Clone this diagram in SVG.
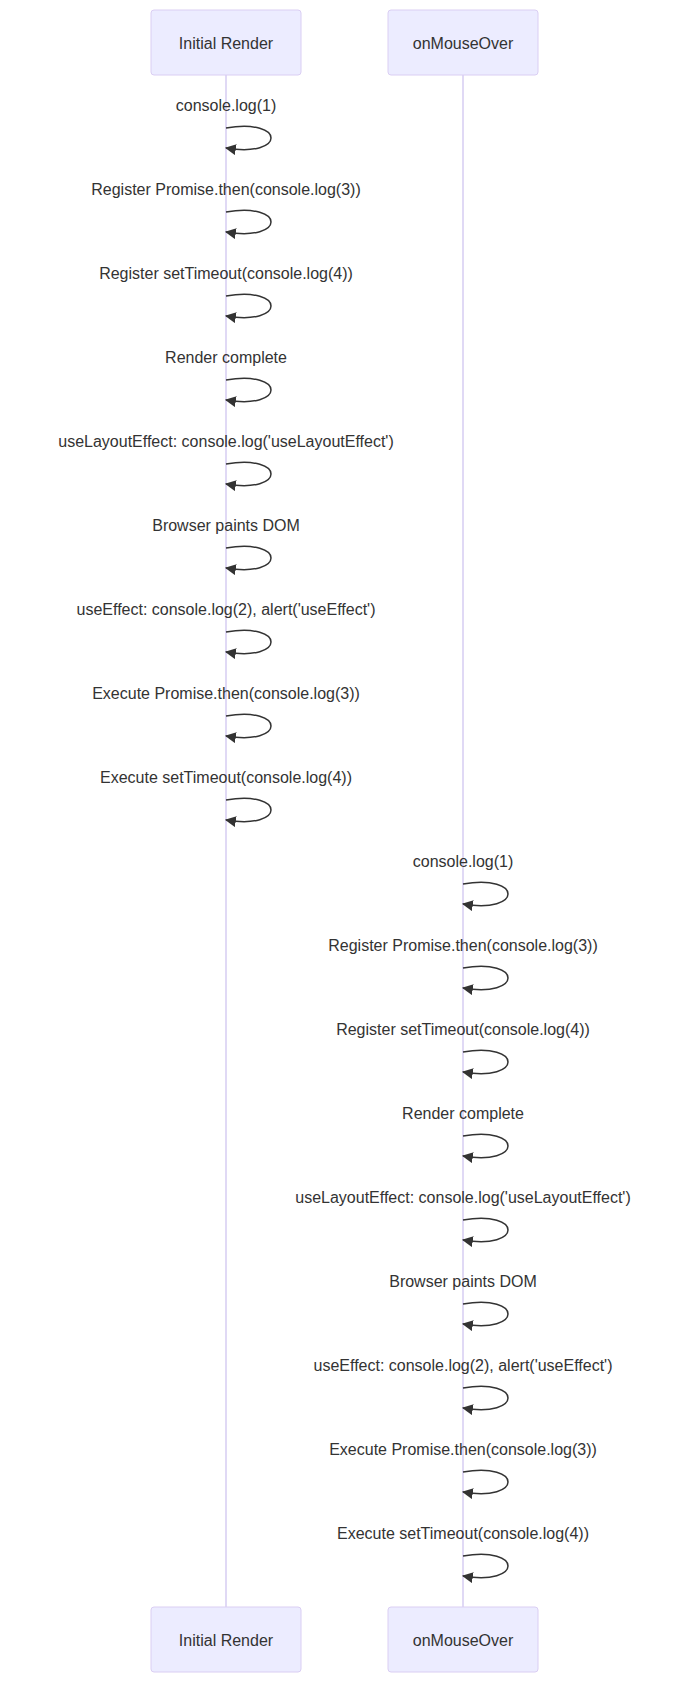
<svg xmlns="http://www.w3.org/2000/svg" width="691" height="1683" viewBox="0 0 691 1683">
<style>
.actor{fill:#ECECFF;stroke:#DACEF3;stroke-width:1}
.atext{font-family:"Liberation Sans",Arial,sans-serif;font-size:16px;fill:#333;text-anchor:middle}
.life{stroke:#D6CCF2;stroke-width:1.5;fill:none}
.msg{font-family:"Liberation Sans",Arial,sans-serif;font-size:16px;fill:#333;text-anchor:middle}
.loop{fill:none;stroke:#333;stroke-width:1.5;marker-end:url(#arrow)}
</style>
<defs>
<marker id="arrow" viewBox="0 0 10 10" refX="9" refY="5" markerWidth="11" markerHeight="11" markerUnits="userSpaceOnUse" orient="auto">
<path d="M0,0 L10,5 L0,10 z" fill="#333"/>
</marker>
</defs>
<rect width="691" height="1683" fill="#fff"/>
<g id="lifelines">
<line class="life" x1="226" y1="75" x2="226" y2="1607"/>
<line class="life" x1="463" y1="75" x2="463" y2="1607"/>
</g>
<g id="actor-initial-top"><rect class="actor" x="151" y="10" width="150" height="65" rx="3"/><text class="atext" x="226" y="48.5">Initial Render</text></g>
<g id="actor-mouse-top"><rect class="actor" x="388" y="10" width="150" height="65" rx="3"/><text class="atext" x="463" y="48.5">onMouseOver</text></g>
<g id="actor-initial-bottom"><rect class="actor" x="151" y="1607" width="150" height="65" rx="3"/><text class="atext" x="226" y="1646">Initial Render</text></g>
<g id="actor-mouse-bottom"><rect class="actor" x="388" y="1607" width="150" height="65" rx="3"/><text class="atext" x="463" y="1646">onMouseOver</text></g>
<g id="connectors">
<path class="loop" d="M226,128 C286,118 286,158 226,148"/>
<path class="loop" d="M226,212 C286,202 286,242 226,232"/>
<path class="loop" d="M226,296 C286,286 286,326 226,316"/>
<path class="loop" d="M226,380 C286,370 286,410 226,400"/>
<path class="loop" d="M226,464 C286,454 286,494 226,484"/>
<path class="loop" d="M226,548 C286,538 286,578 226,568"/>
<path class="loop" d="M226,632 C286,622 286,662 226,652"/>
<path class="loop" d="M226,716 C286,706 286,746 226,736"/>
<path class="loop" d="M226,800 C286,790 286,830 226,820"/>
<path class="loop" d="M463,884 C523,874 523,914 463,904"/>
<path class="loop" d="M463,968 C523,958 523,998 463,988"/>
<path class="loop" d="M463,1052 C523,1042 523,1082 463,1072"/>
<path class="loop" d="M463,1136 C523,1126 523,1166 463,1156"/>
<path class="loop" d="M463,1220 C523,1210 523,1250 463,1240"/>
<path class="loop" d="M463,1304 C523,1294 523,1334 463,1324"/>
<path class="loop" d="M463,1388 C523,1378 523,1418 463,1408"/>
<path class="loop" d="M463,1472 C523,1462 523,1502 463,1492"/>
<path class="loop" d="M463,1556 C523,1546 523,1586 463,1576"/>
</g>
<g id="labels">
<text class="msg" x="226" y="111">console.log(1)</text>
<text class="msg" x="226" y="195">Register Promise.then(console.log(3))</text>
<text class="msg" x="226" y="279">Register setTimeout(console.log(4))</text>
<text class="msg" x="226" y="363">Render complete</text>
<text class="msg" x="226" y="447">useLayoutEffect: console.log('useLayoutEffect')</text>
<text class="msg" x="226" y="531">Browser paints DOM</text>
<text class="msg" x="226" y="615">useEffect: console.log(2), alert('useEffect')</text>
<text class="msg" x="226" y="699">Execute Promise.then(console.log(3))</text>
<text class="msg" x="226" y="783">Execute setTimeout(console.log(4))</text>
<text class="msg" x="463" y="867">console.log(1)</text>
<text class="msg" x="463" y="951">Register Promise.then(console.log(3))</text>
<text class="msg" x="463" y="1035">Register setTimeout(console.log(4))</text>
<text class="msg" x="463" y="1119">Render complete</text>
<text class="msg" x="463" y="1203">useLayoutEffect: console.log('useLayoutEffect')</text>
<text class="msg" x="463" y="1287">Browser paints DOM</text>
<text class="msg" x="463" y="1371">useEffect: console.log(2), alert('useEffect')</text>
<text class="msg" x="463" y="1455">Execute Promise.then(console.log(3))</text>
<text class="msg" x="463" y="1539">Execute setTimeout(console.log(4))</text>
</g>
</svg>
